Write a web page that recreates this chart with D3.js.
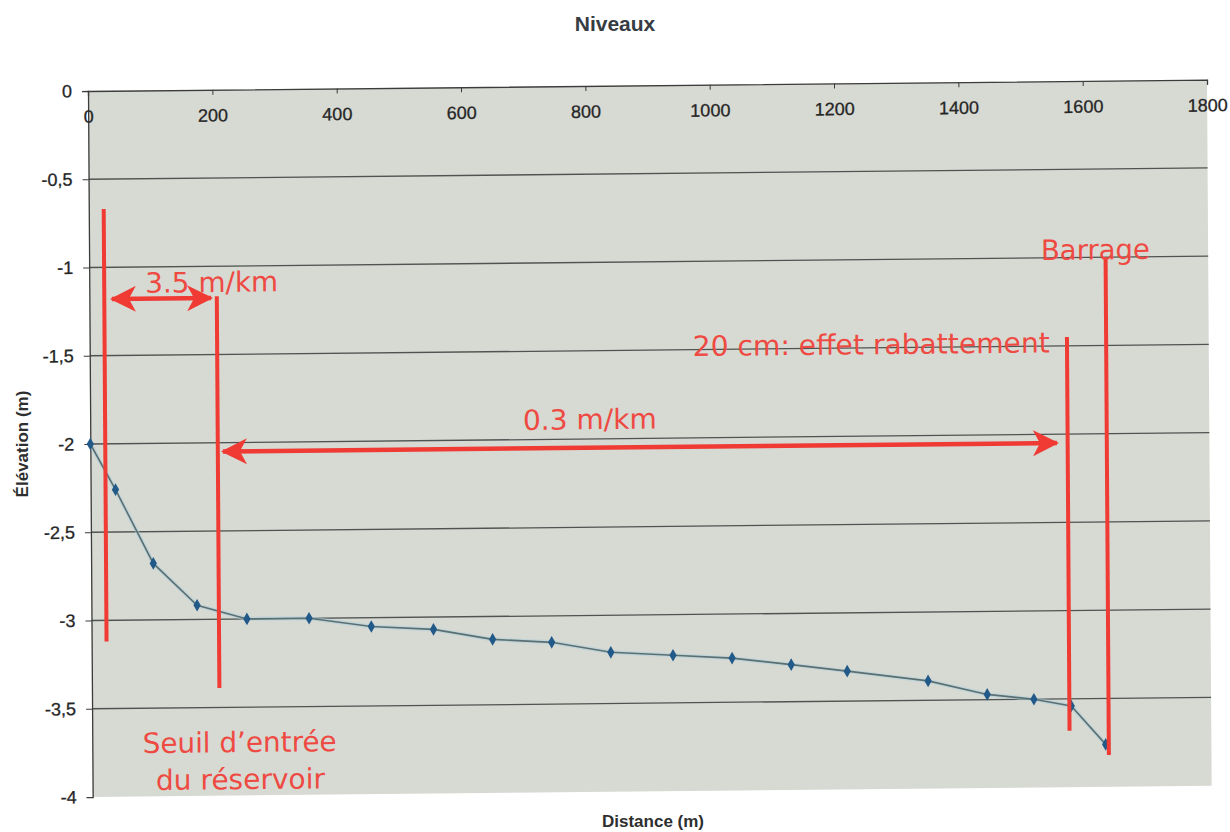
<!DOCTYPE html>
<html>
<head>
<meta charset="utf-8">
<script src="https://cdn.jsdelivr.net/npm/d3@7"></script>
<style>
  html, body { margin: 0; padding: 0; background: #ffffff; }
  svg { display: block; }
</style>
</head>
<body>
<svg id="chart" width="1230" height="832"></svg>
<script>
// ---- data ----
const distance  = [0, 40, 100, 170, 250, 350, 450, 550, 645, 740, 835, 935, 1030, 1125, 1215, 1345, 1440, 1515, 1575, 1630];
const elevation = [-2.0, -2.26, -2.68, -2.92, -3.0, -3.0, -3.05, -3.07, -3.13, -3.15, -3.21, -3.23, -3.25, -3.29, -3.33, -3.39, -3.47, -3.50, -3.54, -3.76];

const xTicks = [0, 200, 400, 600, 800, 1000, 1200, 1400, 1600, 1800];
const xTickLabels = ["0", "200", "400", "600", "800", "1000", "1200", "1400", "1600", "1800"];
const yTicks = [0, -0.5, -1, -1.5, -2, -2.5, -3, -3.5, -4];
const yTickLabels = ["0", "-0,5", "-1", "-1,5", "-2", "-2,5", "-3", "-3,5", "-4"];

// hand-drawn annotations (data units)
const markLineX   = [24, 205, 1572, 1635];
const markLineTop = [-0.67, -1.17, -1.45, -1.0];
const markLineBot = [-3.12, -3.39, -3.68, -3.82];

const arrowX1 = [33, 210];
const arrowX2 = [199, 1558];
const arrowY  = [-1.18, -2.05];

const noteText = ["3.5 m/km", "0.3 m/km", "20 cm: effet rabattement", "Barrage", "Seuil d\u2019entrée", "du réservoir"];
const noteX    = [90, 696, 970, 1531, 81, 102];
const noteY    = [-1.146, -1.945, -1.536, -1.012, -3.754, -3.964];
const noteLen  = [133, 134, 357, 109, 194, 169];

const title = "Niveaux";
const xTitle = "Distance (m)";
const yTitle = "Élévation (m)";

// ---- layout ----
const W = 1119, H = 706;
const svg = d3.select("#chart");

const x = d3.scaleLinear().domain([0, 1800]).range([0, W]);
const y = d3.scaleLinear().domain([0, -4]).range([0, H]);

const red = "#ef3b33";
const redText = "#ee4a42";

// titles (not skewed)
svg.append("text").attr("x", 615).attr("y", 31).attr("text-anchor", "middle")
  .attr("font-family", "Liberation Sans, Arial, sans-serif").attr("font-weight", "bold")
  .attr("font-size", 21).attr("fill", "#363c42").text(title);
svg.append("text").attr("x", 653).attr("y", 827).attr("text-anchor", "middle")
  .attr("font-family", "Liberation Sans, Arial, sans-serif").attr("font-weight", "bold")
  .attr("font-size", 17).attr("fill", "#2e2e2e").text(xTitle);
svg.append("text").attr("transform", "translate(28,444) rotate(-90)").attr("text-anchor", "middle")
  .attr("font-family", "Liberation Sans, Arial, sans-serif").attr("font-weight", "bold")
  .attr("font-size", 17).attr("fill", "#2e2e2e").text(yTitle);

// plot group with the slight tilt of the scanned page
const g = svg.append("g").attr("transform", "matrix(1,-0.0101,0.0066,1,88,91)");

g.append("rect").attr("x", 0).attr("y", 0).attr("width", W).attr("height", H)
  .attr("fill", "#d7d9d3");

// gridlines
g.append("g").selectAll("line").data(yTicks.filter(v => v !== 0 && v !== -4)).join("line")
  .attr("x1", 0).attr("x2", W).attr("y1", d => y(d)).attr("y2", d => y(d))
  .attr("stroke", "#4f5452").attr("stroke-width", 1.3);

// left axis (d3 axis, custom labels)
const yAxis = d3.axisLeft(y).tickValues(yTicks).tickSize(6).tickPadding(10)
  .tickFormat((d, i) => yTickLabels[i]);
const ya = g.append("g").call(yAxis);
ya.select(".domain").attr("stroke", "#3c3c3c").attr("stroke-width", 1.3);
ya.selectAll(".tick line").attr("stroke", "#3c3c3c");
ya.selectAll(".tick text").attr("font-family", "Liberation Sans, Arial, sans-serif")
  .attr("font-size", 18).attr("fill", "#262626").attr("stroke", "#262626").attr("stroke-width", 0.3);

// top axis line at y = 0 with labels just below it
const xAxis = d3.axisBottom(x).tickValues(xTicks).tickSize(5).tickPadding(14)
  .tickFormat((d, i) => xTickLabels[i]);
const xa = g.append("g").attr("transform", `translate(0,${y(0)})`).call(xAxis);
xa.select(".domain").attr("stroke", "#3c3c3c").attr("stroke-width", 1.3);
xa.selectAll(".tick line").attr("stroke", "#3c3c3c");
xa.selectAll(".tick text").attr("font-family", "Liberation Sans, Arial, sans-serif")
  .attr("font-size", 18).attr("fill", "#262626").attr("stroke", "#262626").attr("stroke-width", 0.3);

// data line
const pts = distance.map((d, i) => [d, elevation[i]]);
const line = d3.line().x(d => x(d[0])).y(d => y(d[1]));
g.append("path").datum(pts).attr("d", line).attr("fill", "none")
  .attr("stroke", "#a9cfe0").attr("stroke-width", 4).attr("opacity", 0.55);
g.append("path").datum(pts).attr("d", line).attr("fill", "none")
  .attr("stroke", "#5c6f70").attr("stroke-width", 1.6);
g.append("g").selectAll("path").data(pts).join("path")
  .attr("transform", d => `translate(${x(d[0])},${y(d[1])})`)
  .attr("d", d3.symbol().type(d3.symbolDiamond).size(46))
  .attr("fill", "#215989");

// red vertical marker lines
g.append("g").selectAll("line").data(markLineX).join("line")
  .attr("x1", d => x(d)).attr("x2", d => x(d))
  .attr("y1", (d, i) => y(markLineTop[i])).attr("y2", (d, i) => y(markLineBot[i]))
  .attr("stroke", red).attr("stroke-width", 4);

// double arrows
const defs = svg.append("defs");
defs.append("marker").attr("id", "ahead").attr("markerUnits", "userSpaceOnUse")
  .attr("viewBox", "0 0 26 26").attr("refX", 24).attr("refY", 13)
  .attr("markerWidth", 26).attr("markerHeight", 26).attr("orient", "auto-start-reverse")
  .append("path").attr("d", "M0,0 L26,13 L0,26 L7,13 Z").attr("fill", red);

g.append("g").selectAll("line").data(arrowX1).join("line")
  .attr("x1", d => x(d) + 2).attr("x2", (d, i) => x(arrowX2[i]) - 2)
  .attr("y1", (d, i) => y(arrowY[i])).attr("y2", (d, i) => y(arrowY[i]))
  .attr("stroke", red).attr("stroke-width", 4.5)
  .attr("marker-start", "url(#ahead)").attr("marker-end", "url(#ahead)");

// notes
g.append("g").selectAll("text").data(noteText).join("text")
  .attr("x", (d, i) => x(noteX[i])).attr("y", (d, i) => y(noteY[i]))
  .attr("font-family", "DejaVu Sans, Verdana, sans-serif").attr("font-size", 28)
  .attr("textLength", (d, i) => noteLen[i]).attr("lengthAdjust", "spacingAndGlyphs")
  .attr("fill", redText).text(d => d);
</script>
</body>
</html>
